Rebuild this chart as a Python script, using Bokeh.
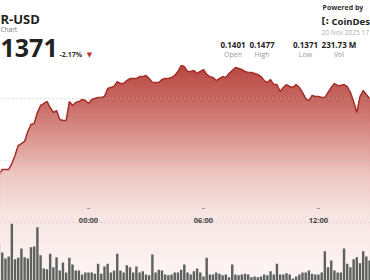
import numpy as np
import pandas as pd
from bokeh.plotting import figure
from bokeh.models import Range1d, Label
from bokeh.embed import file_html
from bokeh.resources import INLINE
from bokeh.core.properties import value

# ---- data ----
times = pd.date_range("2025-11-19 19:20", periods=117, freq="10min")

prices = [
    0.13888, 0.13928, 0.13928, 0.13928, 0.13976, 0.14041, 0.14121, 0.14137, 0.14154, 0.14234,
    0.14291, 0.14299, 0.14387, 0.14444, 0.14460, 0.14476, 0.14428, 0.14387, 0.14403, 0.14331,
    0.14323, 0.14323, 0.14476, 0.14444, 0.14468, 0.14476, 0.14492, 0.14484, 0.14460, 0.14492,
    0.14500, 0.14508, 0.14508, 0.14516, 0.14581, 0.14589, 0.14597, 0.14637, 0.14621, 0.14621,
    0.14645, 0.14661, 0.14661, 0.14661, 0.14677, 0.14677, 0.14686, 0.14661, 0.14629, 0.14629,
    0.14629, 0.14653, 0.14661, 0.14661, 0.14669, 0.14686, 0.14718, 0.14766, 0.14758, 0.14718,
    0.14718, 0.14726, 0.14702, 0.14718, 0.14734, 0.14694, 0.14677, 0.14669, 0.14645, 0.14661,
    0.14677, 0.14669, 0.14702, 0.14726, 0.14750, 0.14742, 0.14734, 0.14718, 0.14710, 0.14710,
    0.14702, 0.14694, 0.14677, 0.14645, 0.14629, 0.14653, 0.14613, 0.14613, 0.14557, 0.14589,
    0.14613, 0.14597, 0.14589, 0.14613, 0.14589, 0.14549, 0.14500, 0.14484, 0.14524, 0.14516,
    0.14516, 0.14508, 0.14508, 0.14549, 0.14589, 0.14621, 0.14605, 0.14605, 0.14613, 0.14597,
    0.14549, 0.14476, 0.14387, 0.14516, 0.14565, 0.14532, 0.14500,
]

volumes_m = [
    5.5, 4.2, 3.3, 3.6, 8.5, 3.2, 3.4, 4.8, 3.5, 3.3,
    5.0, 5.1, 8.0, 3.8, 1.8, 1.7, 4.0, 2.0, 3.5, 1.5,
    2.7, 1.2, 3.4, 2.4, 1.5, 1.5, 0.9, 1.2, 1.2, 1.2,
    1.0, 2.5, 1.0, 2.1, 2.5, 1.2, 1.5, 4.0, 1.5, 1.2,
    2.3, 2.0, 1.2, 2.1, 1.2, 1.4, 0.9, 0.8, 3.9, 1.2,
    1.6, 1.5, 0.9, 0.8, 0.9, 1.2, 1.2, 1.6, 2.4, 1.2,
    0.9, 1.4, 1.8, 1.2, 0.6, 3.4, 0.9, 0.9, 1.2, 1.0,
    0.8, 0.9, 0.5, 2.4, 0.9, 0.8, 0.9, 1.0,
    0.9, 0.5, 0.6, 0.5, 0.6, 0.9, 0.8, 1.4, 0.9, 2.5,
    0.9, 0.9, 1.1, 0.9, 0.3, 0.6, 0.9, 1.2, 1.2, 1.5,
    1.0, 0.9, 0.9, 1.2, 4.4, 2.0, 3.0, 1.5, 1.2, 1.2,
    4.8, 2.5, 2.0, 3.2, 3.5, 2.6, 4.4, 3.6, 3.0,
]

tick_labels = ["00:00", "06:00", "12:00"]
tick_times = pd.to_datetime(["2025-11-20 00:00", "2025-11-20 06:00", "2025-11-20 12:00"])
grid_prices = [0.145, 0.140, 0.135]

header_values = ["0.1401", "0.1477", "0.1371", "231.73 M"]
header_names = ["Open", "High", "Low", "Vol"]
symbol_text = "R-USD"
subtitle_text = "Chart"
last_price_text = "1371"
change_text = "-2.17%"
date_text = "20 Nov 2025 17"

# ---- figure ----
W, H = 370, 280
Y0, Y1 = 0.130335, 0.152903
prices_arr = np.array(prices)
times_arr = np.array(times)

p = figure(width=W, height=H, output_backend="svg", toolbar_location=None,
           x_axis_type="datetime",
           x_range=Range1d(pd.Timestamp("2025-11-19 19:24:30"), pd.Timestamp("2025-11-20 14:42:54")),
           y_range=Range1d(Y0, Y1),
           x_axis_location=None, y_axis_location=None,
           min_border=0, outline_line_color=None,
           background_fill_color="white", border_fill_color="white")
p.grid.visible = False
p.extra_y_ranges = {"vol": Range1d(0, 42)}

# gradient area fill (vertical bands)
stops_px = [58, 100, 140, 175, 215, 280]
stops_rgb = [(182, 66, 59), (199, 104, 98), (220, 152, 147), (237, 199, 196), (247, 229, 227), (253, 246, 246)]
n_bands = 80
px_edges = np.linspace(58, 280, n_bands + 1)
per_px = (Y1 - Y0) / H
for i in range(n_bands):
    mid = 0.5 * (px_edges[i] + px_edges[i + 1])
    rgb = [int(round(np.interp(mid, stops_px, [c[k] for c in stops_rgb]))) for k in range(3)]
    hi = Y1 - px_edges[i] * per_px
    if i == 0:
        top = prices_arr
    else:
        top = np.minimum(prices_arr, hi)
    p.varea(x=times_arr, y1=Y0, y2=top,
            fill_color="#%02x%02x%02x" % tuple(rgb), fill_alpha=1.0)

# dotted grid lines
p.hspan(y=grid_prices, line_color="#b8b8b8", line_width=1, line_dash="1 3", line_alpha=0.8)

# price line
p.line(x=times_arr, y=prices_arr, line_color="#a3302a", line_width=1.5)

# volume bars
p.vbar(x=times_arr, top=volumes_m, width=7.6 * 60 * 1000, bottom=0,
       y_range_name="vol", fill_color="#5e625f", line_color=None)

# time labels inside the chart
lab_y = Y1 - 219.5 * per_px
tick_y = Y1 - 208 * per_px
p.text(x=tick_times, y=[lab_y] * 3, text=tick_labels, text_font=value("Open Sans"),
       text_font_size="7.5px", text_font_style="bold", text_color="#444444",
       text_align="center", text_baseline="middle")
p.scatter(x=tick_times, y=[tick_y] * 3, marker="dash", size=3, line_color="#9a9a9a")


def lab(text, x, y, size, color, bold=False, align="left", font="Open Sans"):
    p.add_layout(Label(x=x, y=H - y, x_units="screen", y_units="screen", text=text,
                       text_font=font, text_font_size=f"{size}px",
                       text_font_style="bold" if bold else "normal",
                       text_color=color, text_align=align, text_baseline="middle"))


# header left
lab(symbol_text, 0, 18, 13, "#222222", bold=True)
lab(subtitle_text, 0, 28.5, 6.5, "#777777")
lab(last_price_text, 0, 47.5, 25, "#222222", bold=True)
lab(change_text, 59, 53.5, 7, "#333333", bold=True)
lab("\u25BC", 89, 54, 7, "#c0392b", align="center", font="DejaVu Sans")

# header right
lab("Powered by", 322, 7, 7, "#333333", bold=True)
lab("[:", 321, 20.5, 9, "#222222", bold=True, font="DejaVu Sans")
lab("CoinDes", 331, 20.5, 9.5, "#222222", bold=True)
lab(date_text, 321, 31.5, 6.6, "#b0b0b0")
centers = [232.5, 261.5, 305, 338.5]
for cx, v, n in zip(centers, header_values, header_names):
    lab(v, cx, 44, 8, "#222222", bold=True, align="center")
    lab(n, cx, 53.5, 7, "#999999", align="center")

open("out.html", "w").write(file_html(p, INLINE))
